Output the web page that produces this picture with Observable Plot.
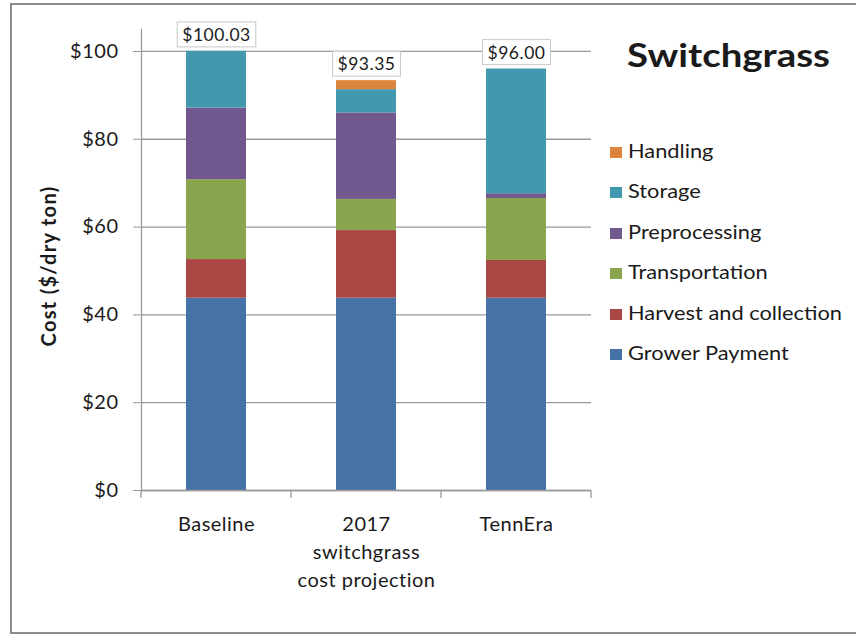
<!DOCTYPE html>
<html>
<head>
<meta charset="utf-8">
<script src="https://cdn.jsdelivr.net/npm/d3@7"></script>
<script src="https://cdn.jsdelivr.net/npm/@observablehq/plot@0.6"></script>
<style>
  body { margin: 0; background: #fff; }
  #wrap { position: relative; width: 856px; height: 634px; overflow: hidden; font-family: Lato, "Open Sans", sans-serif; color: #1a1a1a; }
  #frame { position: absolute; left: 10px; top: 3px; width: 860px; height: 627px; border-left: 2px solid #8c8c8c; border-top: 2px solid #8c8c8c; border-bottom: 2px solid #8c8c8c; }
  #chart { position: absolute; left: 0; top: 0; }
  #chart svg text { letter-spacing: 0.5px; }
  #title { position: absolute; left: 627px; top: 35px; font-size: 32px; font-weight: bold; color: #1a1a1a; transform: scaleX(1.2); transform-origin: left top; }
  #legend { position: absolute; left: 610px; top: 138px; }
  .row { position: absolute; left: 0; height: 24px; white-space: nowrap; font-size: 20px; line-height: 24px; }
  .sw { display: inline-block; width: 12px; height: 11px; margin-right: 6px; vertical-align: 0px; }
  .lt { display: inline-block; transform: scaleX(1.09); transform-origin: left center; }
</style>
</head>
<body>
<div id="wrap">
  <div id="frame"></div>
  <div id="chart"></div>
  <div id="title">Switchgrass</div>
  <div id="legend"></div>
</div>
<script>
// ---- data ----
const categories = ["Baseline", "2017\nswitchgrass\ncost projection", "TennEra"];
const series = ["Grower Payment", "Harvest and collection", "Transportation", "Preprocessing", "Storage", "Handling"];
const seriesColors = ["#4572A7", "#AA4643", "#89A54E", "#71588F", "#4198AF", "#DB843D"];
const growerPayment = [43.8, 43.8, 43.8];
const harvestCollection = [8.8, 15.4, 8.6];
const transportation = [18.2, 7.1, 14.1];
const preprocessing = [16.3, 19.7, 1.1];
const storage = [12.93, 5.3, 28.4];
const handling = [0, 2.05, 0];
const totals = [100.03, 93.35, 96.00];
const totalLabels = ["$100.03", "$93.35", "$96.00"];
const yTicks = [0, 20, 40, 60, 80, 100];
const yLabel = "Cost ($/dry ton)";

const seriesValues = [growerPayment, harvestCollection, transportation, preprocessing, storage, handling];
const stackData = series.flatMap((s, si) => categories.map((c, ci) => ({category: c, series: s, value: seriesValues[si][ci]})));
const totalData = categories.map((c, i) => ({category: c, total: totals[i], label: totalLabels[i]}));

const chart = Plot.plot({
  width: 856,
  height: 634,
  marginLeft: 141,
  marginRight: 265,
  marginTop: 29,
  marginBottom: 144,
  style: {fontFamily: "Lato, 'Open Sans', sans-serif", fontSize: "18px", color: "#1a1a1a", background: "transparent"},
  x: {domain: categories, paddingInner: 0.6, paddingOuter: 0.3, label: null},
  y: {domain: [0, 105], label: null},
  color: {domain: series, range: seriesColors},
  marks: [
    Plot.gridY(yTicks, {stroke: "#9a9a9a", strokeOpacity: 1, strokeWidth: 1.3}),
    Plot.barY(stackData, {x: "category", y: "value", fill: "series"}),
    Plot.frame({anchor: "left", stroke: "#9a9a9a", strokeWidth: 1.3}),
    Plot.ruleY([0], {stroke: "#9a9a9a", strokeWidth: 1.3}),
    Plot.axisY(yTicks, {tickSize: 8, tickPadding: 15, tickFormat: d => "$" + d, stroke: "#9a9a9a", fontSize: 20, label: null}),
    Plot.axisX({tickSize: 0, tickPadding: 20, lineHeight: 1.42, fontSize: 20, label: null}),
    Plot.text([yLabel], {frameAnchor: "left", textAnchor: "middle", rotate: -90, dx: -92, dy: 6, fontWeight: "bold", fontSize: 20}),
    Plot.text(totalData, {x: "category", y: "total", text: "label", dy: -16, fontSize: 17.5})
  ]
});
document.getElementById("chart").appendChild(chart);

const svg = d3.select(chart);
// y label letter spacing
svg.selectAll("text").filter(function() { return this.textContent === yLabel; }).style("letter-spacing", "1.3px");

// x-axis boundary ticks, from the band scale
const xs = chart.scale("x");
const ys = chart.scale("y");
const y0 = ys.apply(0);
const firstStart = xs.apply(categories[0]) - (xs.step - xs.bandwidth) / 2;
const bounds = d3.range(categories.length + 1).map(i => firstStart + i * xs.step);
svg.append("g").selectAll("line").data(bounds).join("line")
  .attr("x1", d => d).attr("x2", d => d)
  .attr("y1", y0).attr("y2", y0 + 8)
  .attr("stroke", "#9a9a9a").attr("stroke-width", 1.3);

// boxes behind total labels
svg.selectAll("text").filter(function() { return totalLabels.includes(this.textContent); }).each(function() {
  const b = this.getBBox();
  const r = d3.select(this.parentNode).insert("rect", () => this)
    .attr("x", b.x - 5).attr("y", b.y - 2)
    .attr("width", b.width + 10).attr("height", b.height + 4)
    .attr("fill", "#fff").attr("stroke", "#c8c8c8").attr("stroke-width", 1);
  const t = this.getAttribute("transform");
  if (t) r.attr("transform", t);
});

// legend
const legend = d3.select("#legend");
series.slice().reverse().forEach((s, i) => {
  const row = legend.append("div").attr("class", "row").style("top", (i * 40.4) + "px");
  row.append("span").attr("class", "sw").style("background", seriesColors[series.indexOf(s)]);
  row.append("span").attr("class", "lt").text(s);
});
</script>
</body>
</html>
